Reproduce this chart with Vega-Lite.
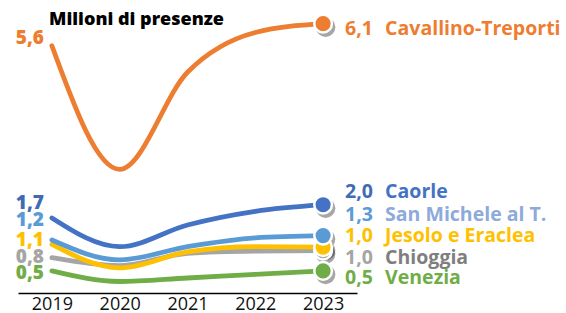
{
  "$schema": "https://vega.github.io/schema/vega-lite/v6.json",
  "autosize": {"type": "none"},
  "width": 339,
  "height": 287,
  "padding": {"left": 18, "top": 6, "right": 209, "bottom": 20},
  "background": "white",
  "title": {"text": "Milioni di presenze", "anchor": "start", "frame": "group", "orient": "top", "offset": -32, "dx": 31, "font": "Open Sans", "fontSize": 18, "fontWeight": 800, "color": "#000000", "baseline": "middle"},
  "config": {
    "view": {"stroke": null},
    "locale": {"number": {"decimal": ",", "thousands": ".", "grouping": [3], "currency": ["", " €"]}},
    "text": {"font": "Open Sans", "fontWeight": "bold", "baseline": "middle"}
  },
  "data": {"values": [
    {"serie": "Chioggia", "anno": "2019", "v": 0.8},
    {"serie": "Chioggia", "anno": "2020", "v": 0.62},
    {"serie": "Chioggia", "anno": "2021", "v": 0.9},
    {"serie": "Chioggia", "anno": "2022", "v": 0.95},
    {"serie": "Chioggia", "anno": "2023", "v": 0.96},
    {"serie": "Venezia", "anno": "2019", "v": 0.5},
    {"serie": "Venezia", "anno": "2020", "v": 0.26},
    {"serie": "Venezia", "anno": "2021", "v": 0.34},
    {"serie": "Venezia", "anno": "2022", "v": 0.42},
    {"serie": "Venezia", "anno": "2023", "v": 0.5},
    {"serie": "Jesolo e Eraclea", "anno": "2019", "v": 1.1},
    {"serie": "Jesolo e Eraclea", "anno": "2020", "v": 0.57},
    {"serie": "Jesolo e Eraclea", "anno": "2021", "v": 0.93},
    {"serie": "Jesolo e Eraclea", "anno": "2022", "v": 1.05},
    {"serie": "Jesolo e Eraclea", "anno": "2023", "v": 1.04},
    {"serie": "San Michele al T.", "anno": "2019", "v": 1.2},
    {"serie": "San Michele al T.", "anno": "2020", "v": 0.75},
    {"serie": "San Michele al T.", "anno": "2021", "v": 1.05},
    {"serie": "San Michele al T.", "anno": "2022", "v": 1.25},
    {"serie": "San Michele al T.", "anno": "2023", "v": 1.3},
    {"serie": "Caorle", "anno": "2019", "v": 1.7},
    {"serie": "Caorle", "anno": "2020", "v": 1.05},
    {"serie": "Caorle", "anno": "2021", "v": 1.54},
    {"serie": "Caorle", "anno": "2022", "v": 1.85},
    {"serie": "Caorle", "anno": "2023", "v": 2.0},
    {"serie": "Cavallino-Treporti", "anno": "2019", "v": 5.6},
    {"serie": "Cavallino-Treporti", "anno": "2020", "v": 2.8},
    {"serie": "Cavallino-Treporti", "anno": "2021", "v": 5.0},
    {"serie": "Cavallino-Treporti", "anno": "2022", "v": 5.9},
    {"serie": "Cavallino-Treporti", "anno": "2023", "v": 6.1}
  ]},
  "encoding": {
    "x": {"field": "anno", "type": "ordinal", "scale": {"type": "point", "padding": 0.5},
          "axis": {"title": null, "labelAngle": 0, "ticks": false, "domainColor": "#000000", "domainWidth": 1.5, "labelFont": "Open Sans", "labelFontSize": 18, "labelColor": "#111111", "labelPadding": 2, "labelDx": 5}},
    "y": {"field": "v", "type": "quantitative", "scale": {"domain": [0, 6.5], "nice": false}, "axis": null}
  },
  "layer": [
    {
      "mark": {"type": "line", "interpolate": "monotone", "strokeWidth": 4.8, "strokeCap": "round"},
      "encoding": {
        "color": {"field": "serie", "type": "nominal", "legend": null,
          "scale": {"domain": ["Chioggia", "Venezia", "Jesolo e Eraclea", "San Michele al T.", "Caorle", "Cavallino-Treporti"],
                    "range": ["#A5A5A5", "#70AD47", "#FFC000", "#5B9BD5", "#4472C4", "#ED7D31"]}}
      }
    },
    {
      "transform": [{"filter": "datum.anno == '2023'"}],
      "mark": {"type": "point", "filled": true, "size": 380, "color": "#000000", "opacity": 0.35, "xOffset": 2.5, "yOffset": 3.5}
    },
    {
      "transform": [{"filter": "datum.anno == '2023'"}],
      "mark": {"type": "point", "filled": true, "size": 310, "stroke": "#ffffff", "strokeWidth": 2.5, "opacity": 1},
      "encoding": {
        "color": {"field": "serie", "type": "nominal", "legend": null}
      }
    },
    {"transform": [{"filter": "datum.anno == '2019' && datum.serie == 'Cavallino-Treporti'"}], "mark": {"type": "text", "align": "right", "dx": -8, "dy": -8, "fontSize": 19, "fontWeight": 800, "color": "#ED7D31"}, "encoding": {"text": {"field": "v", "format": ".1f"}}},
    {"transform": [{"filter": "datum.anno == '2019' && datum.serie == 'Caorle'"}], "mark": {"type": "text", "align": "right", "dx": -8, "dy": -15, "fontSize": 19, "fontWeight": 800, "color": "#3F6BB5"}, "encoding": {"text": {"field": "v", "format": ".1f"}}},
    {"transform": [{"filter": "datum.anno == '2019' && datum.serie == 'San Michele al T.'"}], "mark": {"type": "text", "align": "right", "dx": -8, "dy": -20, "fontSize": 19, "fontWeight": 800, "color": "#5B9BD5"}, "encoding": {"text": {"field": "v", "format": ".1f"}}},
    {"transform": [{"filter": "datum.anno == '2019' && datum.serie == 'Jesolo e Eraclea'"}], "mark": {"type": "text", "align": "right", "dx": -8, "dy": -4, "fontSize": 19, "fontWeight": 800, "color": "#FFC000"}, "encoding": {"text": {"field": "v", "format": ".1f"}}},
    {"transform": [{"filter": "datum.anno == '2019' && datum.serie == 'Chioggia'"}], "mark": {"type": "text", "align": "right", "dx": -8, "dy": -1, "fontSize": 19, "fontWeight": 800, "color": "#A5A5A5"}, "encoding": {"text": {"field": "v", "format": ".1f"}}},
    {"transform": [{"filter": "datum.anno == '2019' && datum.serie == 'Venezia'"}], "mark": {"type": "text", "align": "right", "dx": -8, "dy": 2, "fontSize": 19, "fontWeight": 800, "color": "#70AD47"}, "encoding": {"text": {"field": "v", "format": ".1f"}}},

    {"transform": [{"filter": "datum.anno == '2023' && datum.serie == 'Cavallino-Treporti'"}], "mark": {"type": "text", "align": "left", "dx": 22, "dy": 5, "fontSize": 19.5, "color": "#ED7D31"}, "encoding": {"text": {"field": "v", "format": ".1f"}}},
    {"transform": [{"filter": "datum.anno == '2023' && datum.serie == 'Cavallino-Treporti'"}], "mark": {"type": "text", "align": "left", "dx": 62, "dy": 5, "fontSize": 19.5, "color": "#ED7D31"}, "encoding": {"text": {"field": "serie"}}},
    {"transform": [{"filter": "datum.anno == '2023' && datum.serie == 'Caorle'"}], "mark": {"type": "text", "align": "left", "dx": 22, "dy": -13, "fontSize": 19.5, "color": "#3F6BB5"}, "encoding": {"text": {"field": "v", "format": ".1f"}}},
    {"transform": [{"filter": "datum.anno == '2023' && datum.serie == 'Caorle'"}], "mark": {"type": "text", "align": "left", "dx": 62, "dy": -13, "fontSize": 19.5, "color": "#4472C4"}, "encoding": {"text": {"field": "serie"}}},
    {"transform": [{"filter": "datum.anno == '2023' && datum.serie == 'San Michele al T.'"}], "mark": {"type": "text", "align": "left", "dx": 22, "dy": -21, "fontSize": 19.5, "color": "#5B9BD5"}, "encoding": {"text": {"field": "v", "format": ".1f"}}},
    {"transform": [{"filter": "datum.anno == '2023' && datum.serie == 'San Michele al T.'"}], "mark": {"type": "text", "align": "left", "dx": 62, "dy": -21, "fontSize": 19.5, "color": "#8EAADB"}, "encoding": {"text": {"field": "serie"}}},
    {"transform": [{"filter": "datum.anno == '2023' && datum.serie == 'Jesolo e Eraclea'"}], "mark": {"type": "text", "align": "left", "dx": 22, "dy": -11, "fontSize": 19.5, "color": "#FFC000"}, "encoding": {"text": {"field": "v", "format": ".1f"}}},
    {"transform": [{"filter": "datum.anno == '2023' && datum.serie == 'Jesolo e Eraclea'"}], "mark": {"type": "text", "align": "left", "dx": 62, "dy": -11, "fontSize": 19.5, "color": "#FFC000"}, "encoding": {"text": {"field": "serie"}}},
    {"transform": [{"filter": "datum.anno == '2023' && datum.serie == 'Chioggia'"}], "mark": {"type": "text", "align": "left", "dx": 22, "dy": 7, "fontSize": 19.5, "color": "#A5A5A5"}, "encoding": {"text": {"field": "v", "format": ".1f"}}},
    {"transform": [{"filter": "datum.anno == '2023' && datum.serie == 'Chioggia'"}], "mark": {"type": "text", "align": "left", "dx": 62, "dy": 7, "fontSize": 19.5, "color": "#7F7F7F"}, "encoding": {"text": {"field": "serie"}}},
    {"transform": [{"filter": "datum.anno == '2023' && datum.serie == 'Venezia'"}], "mark": {"type": "text", "align": "left", "dx": 22, "dy": 7, "fontSize": 19.5, "color": "#70AD47"}, "encoding": {"text": {"field": "v", "format": ".1f"}}},
    {"transform": [{"filter": "datum.anno == '2023' && datum.serie == 'Venezia'"}], "mark": {"type": "text", "align": "left", "dx": 62, "dy": 7, "fontSize": 19.5, "color": "#70AD47"}, "encoding": {"text": {"field": "serie"}}}
  ]
}
